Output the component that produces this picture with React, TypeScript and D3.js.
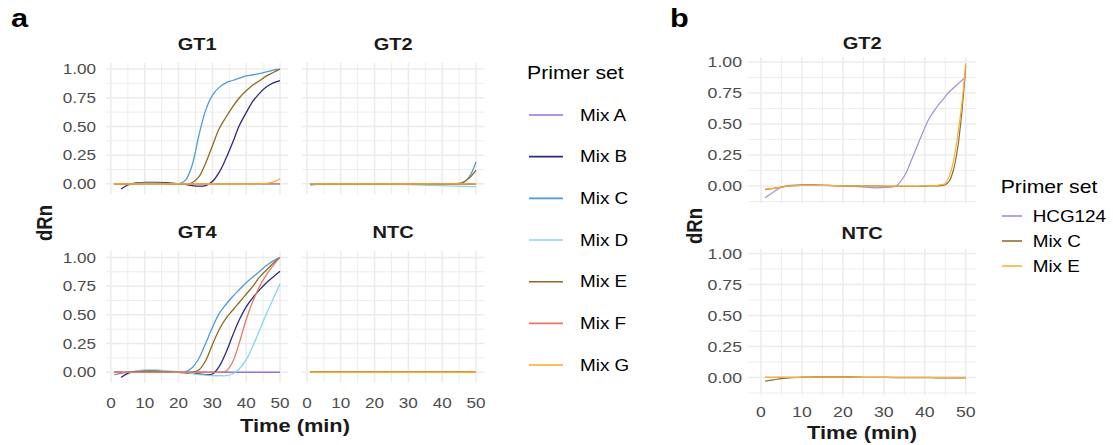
import React from "react";
import * as d3 from "d3";

// ---------- DATA ----------
const timeA = [1, 3, 5, 7, 10, 13, 16, 20, 22, 24, 26, 28, 30, 32, 34, 36, 38, 40, 42, 44, 46, 48, 50];
const timeB = [1, 3, 5, 7, 10, 13, 16, 20, 24, 28, 31, 33, 35, 37, 39, 41, 43, 44, 45, 46, 47, 48, 49, 50];

const mixNamesA = ["Mix A", "Mix B", "Mix C", "Mix D", "Mix E", "Mix F", "Mix G"];
const primerNamesB = ["HCG124", "Mix C", "Mix E"];
const panelNamesA = ["GT1", "GT2", "GT4", "NTC"];
const panelNamesB = ["GT2", "NTC"];

const xTicks = [0, 10, 20, 30, 40, 50];
const yTicks = [0, 0.25, 0.5, 0.75, 1];
const yTickLabels = ["0.00", "0.25", "0.50", "0.75", "1.00"];

// GT1 (panel a)
const gt1MixA = [0, 0, 0, 0, 0, 0, 0, 0, 0, 0, 0, 0, 0, 0, 0, 0, 0, 0, 0, 0, 0, 0, 0];
const gt1MixB = [null, -0.045, -0.01, 0.005, 0.012, 0.012, 0.01, 0, -0.005, -0.015, -0.02, -0.015, 0.02, 0.1, 0.22, 0.36, 0.51, 0.62, 0.72, 0.79, 0.845, 0.88, 0.9];
const gt1MixC = [0, 0, 0, 0.005, 0.01, 0.01, 0.005, 0, 0.03, 0.16, 0.42, 0.64, 0.77, 0.84, 0.88, 0.9, 0.92, 0.94, 0.95, 0.96, 0.975, 0.99, 1.0];
const gt1MixD = [0, 0, 0, 0, 0, 0, 0, 0, 0, 0, 0, -0.003, -0.005, -0.005, -0.005, -0.005, -0.005, -0.005, -0.005, -0.005, -0.005, -0.005, -0.005];
const gt1MixE = [0, 0, 0, 0.003, 0.005, 0.005, 0.003, 0, 0, 0.01, 0.06, 0.18, 0.33, 0.48, 0.58, 0.67, 0.75, 0.81, 0.86, 0.9, 0.94, 0.97, 1.0];
const gt1MixF = [0, 0, 0, 0, 0, 0, 0, 0, 0, 0, 0, 0, 0, 0, 0, 0, 0, 0, 0, 0, 0, 0, 0];
const gt1MixG = [0, 0, 0, 0, 0, 0, 0, 0, 0, 0, 0, 0, 0, 0, 0, 0, 0, 0, 0, 0, 0.005, 0.015, 0.045];

// GT2 (panel a)
const gt2MixA = [0, 0, 0, 0, 0, 0, 0, 0, 0, 0, 0, 0, 0, 0, 0, 0, 0, 0, 0, 0, 0, 0, 0];
const gt2MixB = [0, 0, 0, 0, 0, 0, 0, 0, 0, 0, 0, 0, 0, 0, 0, 0, 0, 0, 0, 0, 0, 0, 0];
const gt2MixC = [0, 0, 0, 0, 0, 0, 0, 0, 0, 0, 0, 0, 0, 0, 0, 0, 0, 0, 0, 0, 0.005, 0.06, 0.19];
const gt2MixD = [-0.015, -0.005, 0, 0, 0, 0, 0, 0, 0, 0, -0.003, -0.005, -0.006, -0.008, -0.01, -0.012, -0.014, -0.016, -0.018, -0.02, -0.022, -0.024, -0.026];
const gt2MixE = [0, 0, 0, 0, 0, 0, 0, 0, 0, 0, 0, 0, 0, 0, 0, 0, 0, 0, 0, 0.002, 0.012, 0.05, 0.12];
const gt2MixF = [0, 0, 0, 0, 0, 0, 0, 0, 0, 0, 0, 0, 0, 0, 0, 0, 0, 0, 0, 0, 0, 0, 0];
const gt2MixG = [0, 0, 0, 0, 0, 0, 0, 0, 0, 0, 0, 0, 0, 0, 0, 0, 0, 0, 0, 0, 0, 0, 0];

// GT4 (panel a) — Mix G not shown in this panel
const gt4MixA = [-0.02, -0.01, 0, 0, 0, 0, 0, 0, 0, 0, 0, 0, 0, 0, 0, 0, 0, 0, 0, 0, 0, 0, 0];
const gt4MixB = [null, -0.045, -0.01, 0.005, 0.012, 0.012, 0.008, 0, -0.005, -0.01, -0.015, -0.02, -0.015, 0.05, 0.17, 0.32, 0.46, 0.57, 0.65, 0.72, 0.78, 0.83, 0.88];
const gt4MixC = [0, 0, 0, 0.005, 0.01, 0.01, 0.005, 0, 0.005, 0.04, 0.12, 0.25, 0.39, 0.51, 0.59, 0.66, 0.72, 0.78, 0.83, 0.88, 0.93, 0.97, 1.0];
const gt4MixD = [0, 0, 0, 0.01, 0.02, 0.02, 0.015, 0.005, 0, -0.01, -0.02, -0.025, -0.03, -0.03, -0.03, -0.015, 0.03, 0.11, 0.23, 0.37, 0.51, 0.64, 0.77];
const gt4MixE = [0, 0, 0, 0.005, 0.01, 0.01, 0.005, 0, 0, 0, 0.02, 0.1, 0.24, 0.37, 0.47, 0.54, 0.61, 0.68, 0.75, 0.83, 0.89, 0.95, 1.0];
const gt4MixF = [0, 0, 0, 0, 0, 0, 0, 0, 0, 0, 0, 0, 0, 0, 0.01, 0.09, 0.26, 0.46, 0.62, 0.75, 0.85, 0.93, 1.0];
const gt4MixG = [null, null, null, null, null, null, null, null, null, null, null, null, null, null, null, null, null, null, null, null, null, null, null];

// NTC (panel a)
const ntcMixA = [0, 0, 0, 0, 0, 0, 0, 0, 0, 0, 0, 0, 0, 0, 0, 0, 0, 0, 0, 0, 0, 0, 0];
const ntcMixB = [0, 0, 0, 0, 0, 0, 0, 0, 0, 0, 0, 0, 0, 0, 0, 0, 0, 0, 0, 0, 0, 0, 0];
const ntcMixC = [0, 0, 0, 0, 0, 0, 0, 0, 0, 0, 0, 0, 0, 0, 0, 0, 0, 0, 0, 0, 0, 0, 0];
const ntcMixD = [0, 0, 0, 0, 0, 0, 0, 0, 0, 0, 0, 0, 0, 0, 0, 0, 0, 0, 0, 0, 0, 0, 0];
const ntcMixE = [0, 0, 0, 0, 0, 0, 0, 0, 0, 0, 0, 0, 0, 0, 0, 0, 0, 0, 0, 0, 0, 0, 0];
const ntcMixF = [0, 0, 0, 0, 0, 0, 0, 0, 0, 0, 0, 0, 0, 0, 0, 0, 0, 0, 0, 0, 0, 0, 0];
const ntcMixG = [0, 0, 0, 0, 0, 0, 0, 0, 0, 0, 0, 0, 0, 0, 0, 0, 0, 0, 0, 0, 0, 0, 0];

// GT2 (panel b)
const bGt2Hcg124 = [-0.095, -0.05, -0.01, 0.005, 0.01, 0.01, 0.005, 0, -0.005, -0.015, -0.01, 0, 0.08, 0.23, 0.39, 0.54, 0.64, 0.68, 0.72, 0.76, 0.79, 0.82, 0.85, 0.88];
const bGt2MixC = [-0.03, -0.02, -0.01, 0, 0.005, 0.005, 0.005, 0, 0, 0, -0.003, -0.003, -0.003, -0.003, -0.002, 0, 0, 0.003, 0.01, 0.04, 0.13, 0.3, 0.58, 0.97];
const bGt2MixE = [-0.025, -0.02, -0.01, 0, 0.005, 0.005, 0.005, 0, 0, 0, -0.002, -0.002, -0.002, -0.002, 0, 0, 0.005, 0.01, 0.02, 0.08, 0.2, 0.4, 0.65, 0.99];

// NTC (panel b)
const bNtcHcg124 = [0, 0, 0, 0, 0, 0, 0, 0, 0, 0, 0, 0, 0, 0, 0, 0, 0, 0, 0, 0, 0, 0, 0, 0];
const bNtcMixC = [-0.03, -0.02, -0.01, -0.003, 0.002, 0.005, 0.005, 0.004, 0.002, 0, 0, -0.001, -0.001, -0.002, -0.002, -0.002, -0.003, -0.003, -0.003, -0.003, -0.004, -0.004, -0.004, -0.004];
const bNtcMixE = [0, 0, 0, 0, 0.002, 0.003, 0.003, 0.002, 0.001, 0, 0, 0, 0, 0, 0, 0, -0.001, -0.001, -0.001, -0.001, -0.001, -0.001, -0.001, -0.001];

const panelDataA = [
  [gt1MixA, gt1MixB, gt1MixC, gt1MixD, gt1MixE, gt1MixF, gt1MixG],
  [gt2MixA, gt2MixB, gt2MixC, gt2MixD, gt2MixE, gt2MixF, gt2MixG],
  [gt4MixA, gt4MixB, gt4MixC, gt4MixD, gt4MixE, gt4MixF, gt4MixG],
  [ntcMixA, ntcMixB, ntcMixC, ntcMixD, ntcMixE, ntcMixF, ntcMixG],
];
const panelDataB = [
  [bGt2Hcg124, bGt2MixC, bGt2MixE],
  [bNtcHcg124, bNtcMixC, bNtcMixE],
];

// ---------- STYLE ----------
const colorsA = ["#9673d9", "#2b2a7d", "#4f9bd9", "#88d4ee", "#8d6a1e", "#e27c65", "#fbab23"];
const colorsB = ["#a68cdc", "#8e6f2e", "#fbb034"];
const FONT = "'Liberation Sans', Arial, Helvetica, sans-serif";
const SX = 1.18;
const GRID = "#ebebeb";

function Txt({ x, y, children, anchor = "start", size = 14, weight = "normal", fill = "#1a1a1a", rotate = 0 }: any) {
  return (
    <text
      transform={`translate(${x},${y}) scale(${SX},1)${rotate ? ` rotate(${rotate})` : ""}`}
      textAnchor={anchor}
      fontSize={size}
      fontWeight={weight}
      fill={fill}
      fontFamily={FONT}
    >
      {children}
    </text>
  );
}

function Panel({ x, y, title, titleY, times, series, colors, showX, showY, tickSize, tickXBase, tickYRight, lw }: any) {
  const xs = d3.scaleLinear().domain(x.domain).range(x.range);
  const ys = d3.scaleLinear().domain(y.domain).range(y.range);
  const [x0, x1] = x.range;
  const [yb, yt] = y.range;
  const xMinor = [5, 15, 25, 35, 45];
  const yMinor = [-0.125, 0.125, 0.375, 0.625, 0.875].filter((v) => v > y.domain[0] && v < y.domain[1]);
  const line = d3
    .line<any>()
    .defined((d) => d[1] != null)
    .x((d) => xs(d[0]))
    .y((d) => ys(d[1]))
    .curve(d3.curveCatmullRom.alpha(0.5));
  return (
    <g>
      {xMinor.map((v) => (
        <line key={"xm" + v} x1={xs(v)} x2={xs(v)} y1={yt} y2={yb} stroke={GRID} strokeWidth={0.9} />
      ))}
      {yMinor.map((v) => (
        <line key={"ym" + v} x1={x0} x2={x1} y1={ys(v)} y2={ys(v)} stroke={GRID} strokeWidth={0.9} />
      ))}
      {xTicks.map((v) => (
        <line key={"xM" + v} x1={xs(v)} x2={xs(v)} y1={yt} y2={yb} stroke={GRID} strokeWidth={1.5} />
      ))}
      {yTicks.map((v) => (
        <line key={"yM" + v} x1={x0} x2={x1} y1={ys(v)} y2={ys(v)} stroke={GRID} strokeWidth={1.5} />
      ))}
      {series.map((vals: any[], i: number) => (
        <path
          key={i}
          d={line(times.map((t: number, j: number) => [t, vals[j]])) || ""}
          fill="none"
          stroke={colors[i]}
          strokeWidth={lw}
        />
      ))}
      <Txt x={(x0 + x1) / 2} y={titleY} anchor="middle" size={17} weight="bold">
        {title}
      </Txt>
      {showX &&
        xTicks.map((v) => (
          <Txt key={"xt" + v} x={xs(v)} y={tickXBase} anchor="middle" size={tickSize} fill="#4d4d4d">
            {String(v)}
          </Txt>
        ))}
      {showY &&
        yTicks.map((v, i) => (
          <Txt key={"yt" + v} x={tickYRight} y={ys(v) + tickSize * 0.36} anchor="end" size={tickSize} fill="#4d4d4d">
            {yTickLabels[i]}
          </Txt>
        ))}
    </g>
  );
}

export default function App() {
  const xA = [
    { domain: [-1.45, 52.45], range: [106, 288.3] },
    { domain: [-1.45, 52.45], range: [302, 484.3] },
  ];
  const yA = [
    { domain: [-0.09, 1.055], range: [194.2, 62.7] },
    { domain: [-0.09, 1.055], range: [382.6, 251.1] },
  ];
  const titleYA = [50, 238];
  const xB = { domain: [-3.1, 52.5], range: [748.3, 976] };
  const yB = [
    { domain: [-0.14, 1.04], range: [203.3, 57] },
    { domain: [-0.14, 1.04], range: [394.8, 248.5] },
  ];
  const titleYB = [48.5, 238.5];

  return (
    <svg
      width={1113}
      height={445}
      style={{ position: "absolute", left: 0, top: 0, background: "#ffffff" }}
      fontFamily={FONT}
    >
      <rect x={0} y={0} width={1113} height={445} fill="#ffffff" />
      {/* Panel a */}
      {panelNamesA.map((name, i) => (
        <Panel
          key={name}
          x={xA[i % 2]}
          y={yA[Math.floor(i / 2)]}
          title={name}
          titleY={titleYA[Math.floor(i / 2)]}
          times={timeA}
          series={panelDataA[i]}
          colors={colorsA}
          showX={i >= 2}
          showY={i % 2 === 0}
          tickSize={14.5}
          tickXBase={408}
          tickYRight={96}
          lw={1.3}
        />
      ))}
      <Txt x={295} y={432} anchor="middle" size={18.5} weight="bold">
        Time (min)
      </Txt>
      <Txt x={51.5} y={223} anchor="middle" size={18.5} weight="bold" rotate={-90}>
        dRn
      </Txt>
      <Txt x={11} y={27} size={26} weight="bold" fill="#000">
        a
      </Txt>
      {/* Legend a */}
      <Txt x={527} y={79} size={18} fill="#000">
        Primer set
      </Txt>
      {mixNamesA.map((n, i) => (
        <g key={n}>
          <line x1={529} x2={563} y1={115 + i * 41.67} y2={115 + i * 41.67} stroke={colorsA[i]} strokeWidth={1.6} />
          <Txt x={580} y={115 + i * 41.67 + 5.8} size={16} fill="#000">
            {n}
          </Txt>
        </g>
      ))}

      {/* Panel b */}
      {panelNamesB.map((name, i) => (
        <Panel
          key={"b" + name}
          x={xB}
          y={yB[i]}
          title={name}
          titleY={titleYB[i]}
          times={timeB}
          series={panelDataB[i]}
          colors={colorsB}
          showX={i === 1}
          showY={true}
          tickSize={15}
          tickXBase={417}
          tickYRight={742}
          lw={1.2}
        />
      ))}
      <Txt x={862} y={439} anchor="middle" size={18.5} weight="bold">
        Time (min)
      </Txt>
      <Txt x={701.5} y={226} anchor="middle" size={18.5} weight="bold" rotate={-90}>
        dRn
      </Txt>
      <Txt x={670} y={27} size={26} weight="bold" fill="#000">
        b
      </Txt>
      <Txt x={1000.7} y={192.7} size={18} fill="#000">
        Primer set
      </Txt>
      {primerNamesB.map((n, i) => (
        <g key={"lb" + n}>
          <line x1={1002} x2={1022} y1={216 + i * 25} y2={216 + i * 25} stroke={colorsB[i]} strokeWidth={1.6} />
          <Txt x={1032.7} y={216 + i * 25 + 5.8} size={16} fill="#000">
            {n}
          </Txt>
        </g>
      ))}
    </svg>
  );
}
